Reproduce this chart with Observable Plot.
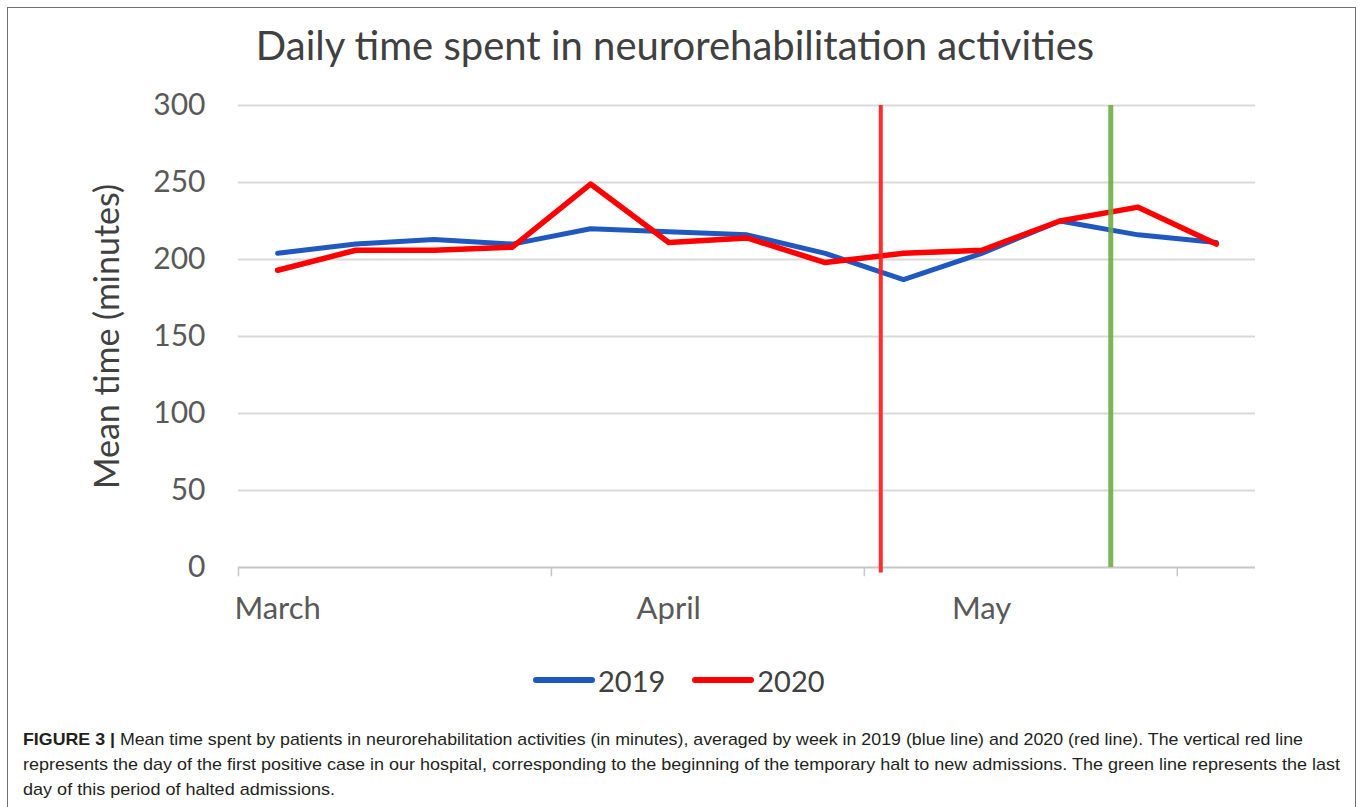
<!DOCTYPE html>
<html><head><meta charset="utf-8">
<script src="https://cdn.jsdelivr.net/npm/d3@7"></script>
<script src="https://cdn.jsdelivr.net/npm/@observablehq/plot@0.6"></script>
<style>
html,body{margin:0;padding:0;background:#fff}
body{width:1363px;height:807px;overflow:hidden;position:relative;font-family:Lato,"Open Sans",sans-serif}
#frame{position:absolute;left:7px;top:7px;width:1347px;height:830px;border:1px solid #707070;pointer-events:none}
#title{position:absolute;top:17px;left:0;width:1350px;text-align:center;font-size:40px;color:#404040;line-height:56px}
#chart{position:absolute;top:80px;left:0}
#legend{position:absolute;top:662px;left:533px;display:flex;align-items:center;font-size:29px;color:#404040;height:36px}
#legend span{margin-left:3px;margin-right:27px}
#caption{position:absolute;left:23px;top:727px;font-family:"Liberation Sans",Arial,sans-serif;font-size:17px;line-height:25px;color:#231f20}
#caption .ln{display:block;white-space:nowrap;transform-origin:0 50%;width:max-content}
</style></head>
<body>
<div id="frame"></div>
<div id="title">Daily time spent in neurorehabilitation activities</div>
<div id="chart"></div>
<div id="legend"></div>
<div id="caption"></div>
<script>
// week index (0 = first week of March)
const weekIndex = [0,1,2,3,4,5,6,7,8,9,10,11,12];
const values2019 = [204, 210, 213, 210, 220, 218, 216, 204, 187, 204, 225, 216, 211];
const values2020 = [193, 206, 206, 208, 249, 211, 214, 198, 204, 206, 225, 234, 210];
const seriesNames = ["2019", "2020"];
const seriesColors = ["#1f58c0", "#ff0000"];
const yTicks = [0, 50, 100, 150, 200, 250, 300];
const monthLabels = ["March", "April", "May"];
const monthLabelWeek = [0, 5, 9];
const monthBoundaryWeek = [-0.5, 3.5, 7.5, 11.5];
const firstCaseWeek = 7.71;   // vertical red line
const lastHaltWeek = 10.65;   // vertical green line
const captionLines = [
  "Mean time spent by patients in neurorehabilitation activities (in minutes), averaged by week in 2019 (blue line) and 2020 (red line). The vertical red line",
  "represents the day of the first positive case in our hospital, corresponding to the beginning of the temporary halt to new admissions. The green line represents the last",
  "day of this period of halted admissions."
];
const captionLineWidths = [1280, 1317, 312];

const rows = [];
weekIndex.forEach((w, i) => {
  rows.push({week: w, value: values2019[i], series: seriesNames[0]});
  rows.push({week: w, value: values2020[i], series: seriesNames[1]});
});
const months = monthLabels.map((m, i) => ({label: m, week: monthLabelWeek[i]}));

const chart = Plot.plot({
  width: 1363,
  height: 557,
  marginLeft: 238,
  marginRight: 108,
  marginTop: 25,
  marginBottom: 70,
  x: {type: "linear", domain: [-0.5, 12.5], axis: null},
  y: {domain: [0, 300], axis: null},
  color: {domain: seriesNames, range: seriesColors},
  style: {fontFamily: "Lato, 'Open Sans', sans-serif", background: "transparent"},
  marks: [
    Plot.ruleY(yTicks.filter(d => d > 0), {y: d => d, stroke: "#d9d9d9", strokeWidth: 2}),
    Plot.ruleY([0], {y: d => d, stroke: "#c6c6c6", strokeWidth: 2}),
    Plot.ruleX(monthBoundaryWeek, {x: d => d, y1: 0, y2: -6, stroke: "#c6c6c6", strokeWidth: 1.5}),
    Plot.text(yTicks, {y: d => d, text: d => String(d), frameAnchor: "left", dx: -33, textAnchor: "end", fontSize: 30, fill: "#595959"}),
    Plot.text(months, {x: "week", y: 0, text: "label", dy: 42, fontSize: 31, fill: "#595959"}),
    Plot.text(["Mean time (minutes)"], {frameAnchor: "left", dx: -130, rotate: -90, textAnchor: "middle", fontSize: 34, fill: "#404040"}),
    Plot.line(rows, {filter: d => d.series === "2019", x: "week", y: "value", stroke: "series", strokeWidth: 5, strokeLinejoin: "round", strokeLinecap: "round"}),
    Plot.line(rows, {filter: d => d.series === "2020", x: "week", y: "value", stroke: "series", strokeWidth: 5.5, strokeLinejoin: "round", strokeLinecap: "round"}),
    Plot.ruleX([firstCaseWeek], {x: d => d, y1: 300, y2: -3.5, stroke: "#ff2222", strokeWidth: 4, strokeOpacity: 0.95}),
    Plot.ruleX([lastHaltWeek], {x: d => d, y1: 300, y2: 0, stroke: "#70ad47", strokeWidth: 5, strokeOpacity: 0.9})
  ]
});
document.getElementById("chart").appendChild(chart);

const legend = document.getElementById("legend");
seriesNames.forEach((name, i) => {
  const ns = "http://www.w3.org/2000/svg";
  const svg = document.createElementNS(ns, "svg");
  svg.setAttribute("width", 62); svg.setAttribute("height", 12);
  const ln = document.createElementNS(ns, "line");
  ln.setAttribute("x1", 3); ln.setAttribute("x2", 59); ln.setAttribute("y1", 6); ln.setAttribute("y2", 6);
  ln.setAttribute("stroke", seriesColors[i]); ln.setAttribute("stroke-width", 6); ln.setAttribute("stroke-linecap", "round");
  svg.appendChild(ln);
  legend.appendChild(svg);
  const s = document.createElement("span");
  s.textContent = name;
  legend.appendChild(s);
});

const cap = document.getElementById("caption");
captionLines.forEach((t, i) => {
  const d = document.createElement("span");
  d.className = "ln";
  if (i === 0) {
    const b = document.createElement("b");
    b.textContent = "FIGURE 3 | ";
    d.appendChild(b);
  }
  d.appendChild(document.createTextNode(t));
  cap.appendChild(d);
  const w = d.getBoundingClientRect().width;
  const k = captionLineWidths[i] / w;
  if (k > 0.8 && k < 1.2) d.style.transform = `scaleX(${k})`;
});
</script>
</body></html>
